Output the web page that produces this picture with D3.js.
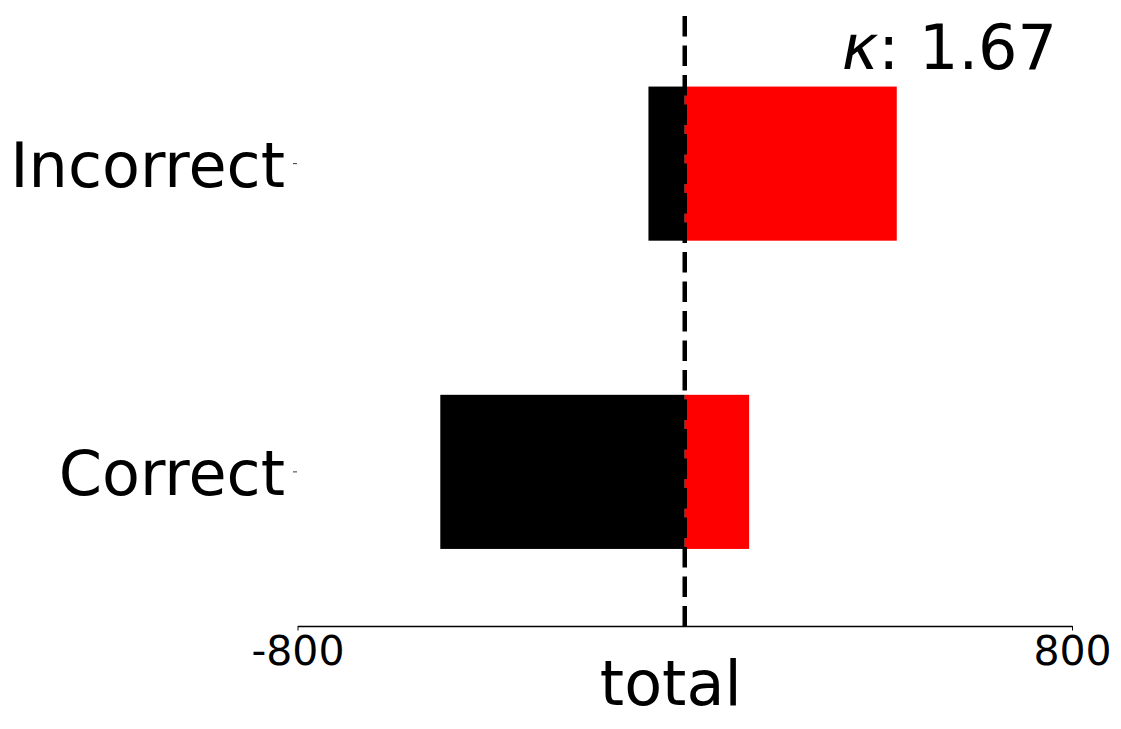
<!DOCTYPE html>
<html>
<head>
<meta charset="utf-8">
<script src="https://cdn.jsdelivr.net/npm/d3@7"></script>
<style>
  body { margin: 0; background: #fff; }
  svg text { font-family: "DejaVu Sans", sans-serif; fill: #000; }
</style>
</head>
<body>
<div id="chart"></div>
<script>
// data
const categories = ["Incorrect", "Correct"];
const negValues = [-75, -505];   // black part (left of zero)
const posValues = [438, 133];    // red part (right of zero)
const xTicks = [-800, 800];
const kappa = "1.67";

const width = 1121, height = 729;
const plot = {left: 297.5, right: 1072, top: 9.5, bottom: 626};

const svg = d3.select("#chart").append("svg")
    .attr("width", width)
    .attr("height", height);

const x = d3.scaleLinear()
    .domain([-800, 800])
    .range([plot.left, plot.right]);

const y = d3.scaleBand()
    .domain(categories)
    .range([plot.top, plot.bottom])
    .paddingInner(0.5)
    .paddingOuter(0.25);

const rows = categories.map((c, i) => ({cat: c, neg: negValues[i], pos: posValues[i]}));

// black bars (negative side)
svg.selectAll(".neg")
    .data(rows)
    .join("rect")
    .attr("class", "neg")
    .attr("x", d => x(d.neg))
    .attr("y", d => y(d.cat))
    .attr("width", d => x(0) - x(d.neg))
    .attr("height", y.bandwidth())
    .attr("fill", "#000");

// red bars (positive side)
svg.selectAll(".pos")
    .data(rows)
    .join("rect")
    .attr("class", "pos")
    .attr("x", x(0))
    .attr("y", d => y(d.cat))
    .attr("width", d => x(d.pos) - x(0))
    .attr("height", y.bandwidth())
    .attr("fill", "#ff0000");

// x axis
const xAxis = svg.append("g")
    .attr("transform", `translate(0,${plot.bottom})`)
    .call(d3.axisBottom(x).tickValues(xTicks).tickSize(4.5).tickSizeOuter(0).tickFormat(d3.format("d")));
xAxis.select(".domain").attr("stroke", "#000").attr("stroke-width", 1.3);
xAxis.selectAll(".tick line").attr("stroke", "#000").attr("stroke-width", 1);
xAxis.selectAll(".tick text")
    .attr("y", 39)
    .attr("dy", null)
    .style("font-size", "41px")
    .style("font-family", "DejaVu Sans")
    .attr("fill", "#000")
    .text(d => d < 0 ? "-" + Math.abs(d) : d);

// y axis (ticks only)
const yAxis = svg.append("g")
    .attr("transform", `translate(${plot.left - 0.5},0)`)
    .call(d3.axisLeft(y).tickSize(4).tickPadding(8));
yAxis.select(".domain").remove();
yAxis.selectAll(".tick line").attr("stroke", "#000").attr("stroke-width", 0.8);
yAxis.selectAll(".tick text")
    .attr("dy", "0.37em")
    .style("font-size", "62px")
    .style("font-family", "DejaVu Sans")
    .attr("fill", "#000");

// dashed zero line
svg.append("line")
    .attr("x1", x(0)).attr("x2", x(0))
    .attr("y1", plot.top).attr("y2", plot.bottom)
    .attr("stroke", "#000")
    .attr("stroke-width", 4.5)
    .attr("stroke-dasharray", "20.5,9")
    .attr("stroke-dashoffset", 23);

// x label
svg.append("text")
    .attr("x", (plot.left + plot.right) / 2 - 14)
    .attr("y", 705)
    .attr("text-anchor", "middle")
    .style("font-size", "62px")
    .text("total");

// kappa annotation
const k = svg.append("text")
    .attr("x", 1057)
    .attr("y", 69)
    .attr("text-anchor", "end")
    .style("font-size", "62px");
k.append("tspan").style("font-style", "italic").text("κ");
k.append("tspan").text(": " + kappa);
</script>
</body>
</html>
